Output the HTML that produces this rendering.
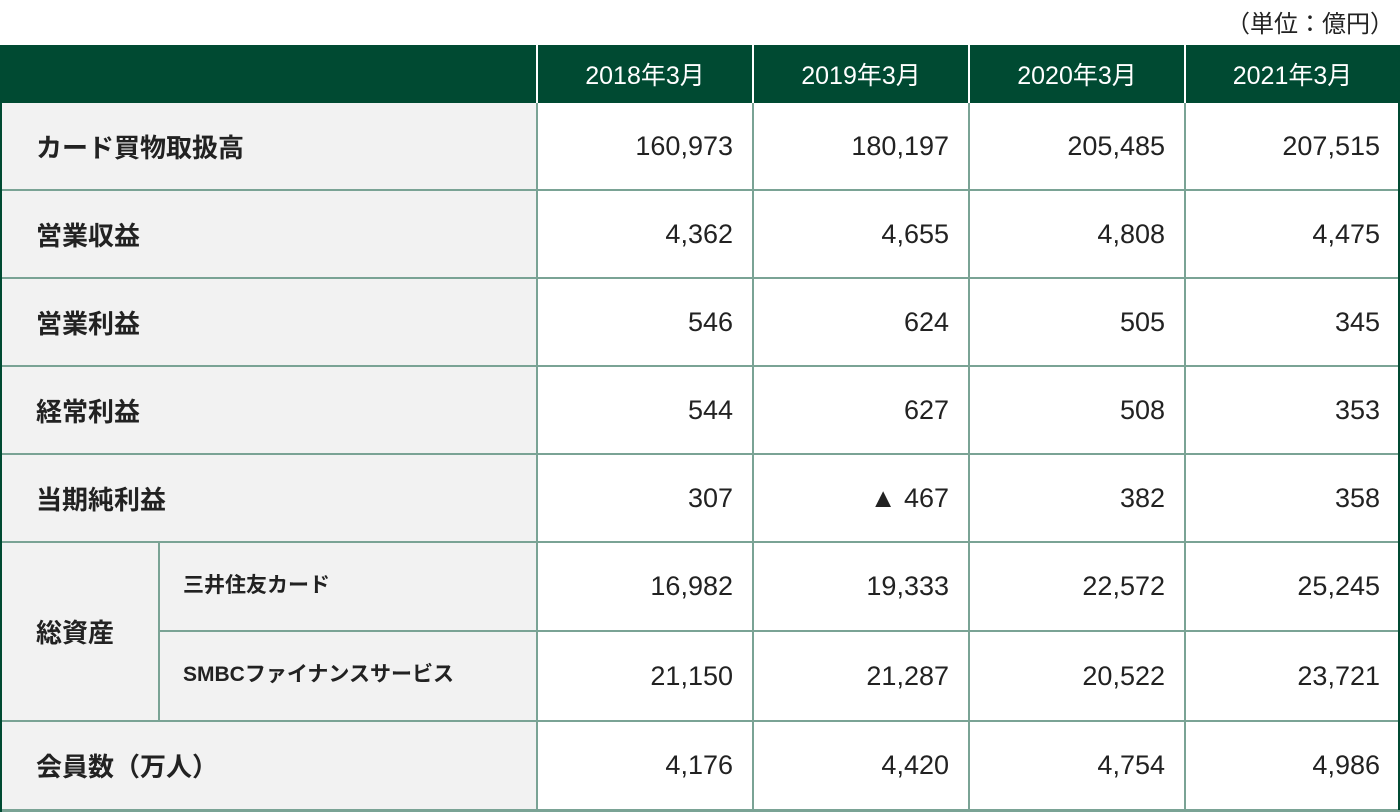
<!DOCTYPE html>
<html><head><meta charset="utf-8"><style>
body{margin:0;width:1400px;height:812px;background:#fff;position:relative;overflow:hidden;font-family:"Liberation Sans","Noto Sans CJK JP",sans-serif;color:#222}
div{position:absolute;box-sizing:border-box}
.h{background:#004a32;color:#fff;font-size:25px;display:flex;align-items:center;justify-content:center}
.l{background:#f2f2f2;font-weight:bold;font-size:26px;display:flex;align-items:center;padding-left:36px}
.s{background:#f2f2f2;font-weight:bold;font-size:21px;display:flex;align-items:center;padding-left:24px;padding-bottom:6px}
.v{background:#fff;font-size:27px;display:flex;align-items:center;justify-content:flex-end;padding-right:20px}
.hl{background:#7aa395}
.vl{background:#7aa395}
</style></head><body>
<div style="right:6px;top:4px;font-size:24px">（単位：億円）</div>
<div id="t" style="left:0;top:45px;width:1400px;height:767px"></div>
<script>
const years=["2018年3月","2019年3月","2020年3月","2021年3月"];
const labels=["カード買物取扱高","営業収益","営業利益","経常利益","当期純利益","三井住友カード","SMBCファイナンスサービス","会員数（万人）"];
const values=[["160,973","180,197","205,485","207,515"],["4,362","4,655","4,808","4,475"],["546","624","505","345"],["544","627","508","353"],["307","▲ 467","382","358"],["16,982","19,333","22,572","25,245"],["21,150","21,287","20,522","23,721"],["4,176","4,420","4,754","4,986"]];
const cols=[0,537,753,969,1185,1400];
const rows=[103,190,278,366,454,542,631,721,810];
function mk(cls,x,y,w,h,txt,name){const d=document.createElement('div');d.className=cls;d.style.left=x+'px';d.style.top=y+'px';d.style.width=w+'px';d.style.height=h+'px';if(txt!==undefined)d.textContent=txt;


document.body.appendChild(d);return d;}
mk('h',0,45,1400,58,'','header-row');
years.forEach((y,i)=>mk('h',cols[i+1],45,cols[i+2]-cols[i+1],58,y,'header-year'));
labels.forEach((l,r)=>{
 const y=rows[r],h=rows[r+1]-y;
 if(r===5||r===6){mk('s',159,y,378,h,l,'row-sublabel');}
 else mk('l',0,y,537,h,l,'row-label');
 values[r].forEach((v,c)=>mk('v',cols[c+1],y,cols[c+2]-cols[c+1],h,v,'value-cell'));
});
mk('l',0,rows[5],159,rows[7]-rows[5],'総資産','row-label-total-assets');
for(let i=1;i<rows.length-1;i++){if(i===6){mk('hl',159,rows[i]-1,1241,2,undefined,'row-divider');}else mk('hl',0,rows[i]-1,1400,2,undefined,'row-divider');}
mk('hl',0,809,1400,3,undefined,'bottom-border');
for(let i=1;i<5;i++){mk('vl',cols[i]-1,103,2,707,undefined,'col-divider');}
for(let i=1;i<5;i++)mk('vl',cols[i]-1,45,2,58,undefined,'header-divider').style.background='#fff';
mk('vl',158,rows[5],2,rows[7]-rows[5],undefined,'sub-divider');
mk('vl',0,45,2,767,undefined,'left-border').style.background='#004a32';
mk('vl',1398,103,2,707,undefined,'right-border').style.background='#004a32';
</script>
</body></html>
